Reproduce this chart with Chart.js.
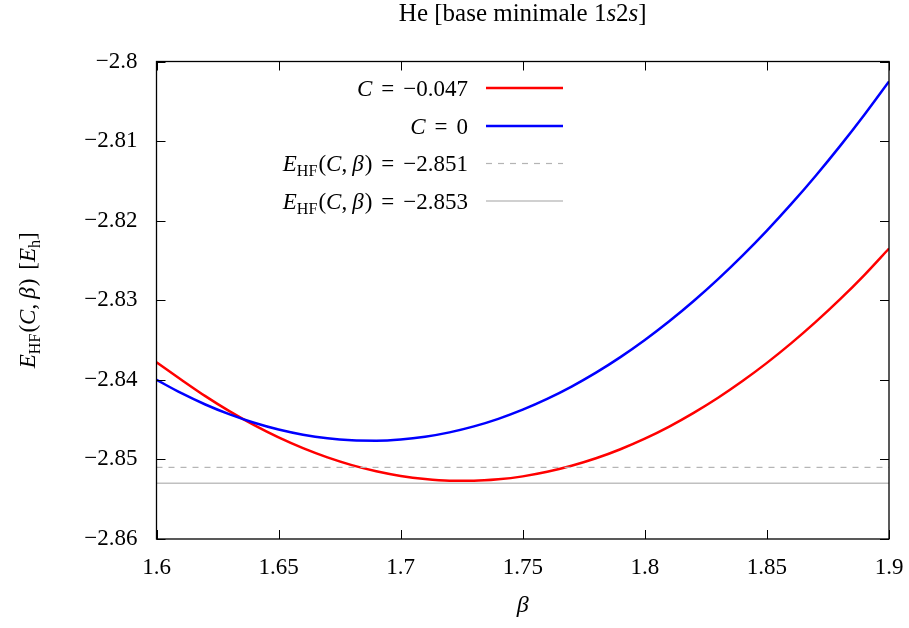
<!DOCTYPE html>
<html><head><meta charset="utf-8">
<script src="https://cdn.jsdelivr.net/npm/chart.js@4.4.1/dist/chart.umd.min.js"></script>
<style>html,body{margin:0;padding:0;background:#fff}#wrap{width:909px;height:628px;position:relative}</style>
</head><body><div id="wrap"><canvas id="c"></canvas></div>
<script>
const betaValues = [1.60,1.61,1.62,1.63,1.64,1.65,1.66,1.67,1.68,1.69,1.70,1.71,1.72,1.73,1.74,1.75,1.76,1.77,1.78,1.79,1.80,1.81,1.82,1.83,1.84,1.85,1.86,1.87,1.88,1.89,1.90];
const redValues = [-2.83780,-2.83995,-2.84205,-2.84397,-2.84570,-2.84724,-2.84859,-2.84975,-2.85072,-2.85149,-2.85208,-2.85247,-2.85267,-2.85268,-2.85250,-2.85213,-2.85156,-2.85080,-2.84986,-2.84872,-2.84739,-2.84587,-2.84415,-2.84225,-2.84015,-2.83787,-2.83539,-2.83272,-2.82986,-2.82680,-2.82350];
const blueValues = [-2.84000,-2.84165,-2.84310,-2.84435,-2.84540,-2.84625,-2.84690,-2.84735,-2.84760,-2.84765,-2.84750,-2.84715,-2.84660,-2.84585,-2.84490,-2.84375,-2.84240,-2.84085,-2.83910,-2.83715,-2.83500,-2.83265,-2.83010,-2.82735,-2.82440,-2.82125,-2.81790,-2.81435,-2.81060,-2.80665,-2.80250];
const levelValues = [-2.851, -2.853];
const levelRange = [1.6, 1.9];
const xTickValues = [1.6,1.65,1.7,1.75,1.8,1.85,1.9];
const yTickValues = [-2.86,-2.85,-2.84,-2.83,-2.82,-2.81,-2.8];

const FONT = "'Liberation Serif','DejaVu Serif',serif";
const fmt = v => { const s = String(parseFloat(Math.abs(v).toFixed(3))); return (v < 0 ? '\u2212' : '') + s; };

function segFont(seg, size) {
  const s = seg.sub ? size * 0.7 : size;
  return (seg.it ? 'italic ' : '') + s + 'px ' + FONT;
}
function richWidth(ctx, segs, size) {
  let w = 0;
  for (const g of segs) {
    if (g.gap) { w += g.gap; continue; }
    ctx.font = segFont(g, size); w += ctx.measureText(g.t).width;
  }
  return w;
}
function drawRich(ctx, segs, x, y, size, align) {
  const w = richWidth(ctx, segs, size);
  let cx = align === 'right' ? x - w : align === 'center' ? x - w / 2 : x;
  ctx.textBaseline = 'alphabetic'; ctx.textAlign = 'left'; ctx.fillStyle = '#000';
  for (const g of segs) {
    if (g.gap) { cx += g.gap; continue; }
    ctx.font = segFont(g, size);
    ctx.fillText(g.t, cx, y + (g.sub ? size * 0.22 : 0));
    cx += ctx.measureText(g.t).width;
  }
}
const EHF = [{t:'E',it:true},{t:'HF',sub:true},{gap:1},{t:'('},{t:'C',it:true},{t:','},{gap:5},{t:'\u03B2',it:true},{gap:1},{t:')'}];
const legendItems = [
  {segs:[{t:'C',it:true},{gap:9},{t:'='},{gap:9},{t:'\u22120.047'}], color:'#ff0000', width:2.5, dash:[]},
  {segs:[{t:'C',it:true},{gap:9},{t:'='},{gap:9},{t:'0'}], color:'#0000ff', width:2.5, dash:[]},
  {segs:[...EHF,{gap:9},{t:'='},{gap:9},{t:'\u22122.851'}], color:'#b4b4b4', width:1.2, dash:[6,6]},
  {segs:[...EHF,{gap:9},{t:'='},{gap:9},{t:'\u22122.853'}], color:'#c0c0c0', width:1.5, dash:[]}
];

const decor = {
  id: 'decor',
  afterDraw(chart) {
    const ctx = chart.ctx, a = chart.chartArea;
    const xs = chart.scales.x, ys = chart.scales.y;
    ctx.save();
    ctx.strokeStyle = '#000'; ctx.lineWidth = 1.3; ctx.setLineDash([]);
    ctx.strokeRect(a.left, a.top, a.right - a.left, a.bottom - a.top);
    ctx.lineWidth = 1; const tl = 9;
    ctx.beginPath();
    for (const v of xTickValues) {
      const px = Math.round(xs.getPixelForValue(v)) + 0.5;
      ctx.moveTo(px, a.bottom); ctx.lineTo(px, a.bottom - tl);
      ctx.moveTo(px, a.top); ctx.lineTo(px, a.top + tl);
    }
    for (const v of yTickValues) {
      const py = Math.round(ys.getPixelForValue(v)) + 0.5;
      ctx.moveTo(a.left, py); ctx.lineTo(a.left + tl, py);
      ctx.moveTo(a.right, py); ctx.lineTo(a.right - tl, py);
    }
    ctx.stroke();
    drawRich(ctx, [{t:'He [base minimale 1'},{t:'s',it:true},{t:'2'},{t:'s',it:true},{t:']'}], (a.left + a.right) / 2, 21, 25, 'center');
    drawRich(ctx, [{t:'\u03B2',it:true}], (a.left + a.right) / 2, 612, 24, 'center');
    ctx.save();
    ctx.translate(35, (a.top + a.bottom) / 2);
    ctx.rotate(-Math.PI / 2);
    drawRich(ctx, [...EHF,{gap:9},{t:'['},{t:'E',it:true},{t:'h',sub:true},{t:']'}], 0, 0, 23, 'center');
    ctx.restore();
    const rowY = [88, 126, 163.5, 201];
    legendItems.forEach((it, i) => {
      drawRich(ctx, it.segs, 468, rowY[i] + 7.5, 23, 'right');
      ctx.beginPath(); ctx.strokeStyle = it.color; ctx.lineWidth = it.width; ctx.setLineDash(it.dash);
      ctx.moveTo(486, rowY[i]); ctx.lineTo(563, rowY[i]); ctx.stroke();
    });
    ctx.restore();
  }
};

const pts = vals => betaValues.map((b, i) => ({x: b, y: vals[i]}));
const levelPts = v => levelRange.map(b => ({x: b, y: v}));

new Chart(document.getElementById('c'), {
  type: 'line',
  data: {
    datasets: [
      {label:'E=-2.851', data: levelPts(levelValues[0]), borderColor:'#b4b4b4', borderWidth:1.2, borderDash:[6,6], pointRadius:0},
      {label:'E=-2.853', data: levelPts(levelValues[1]), borderColor:'#c0c0c0', borderWidth:1.5, pointRadius:0},
      {label:'C=0', data: pts(blueValues), borderColor:'#0000ff', borderWidth:2.5, pointRadius:0, cubicInterpolationMode:'monotone'},
      {label:'C=-0.047', data: pts(redValues), borderColor:'#ff0000', borderWidth:2.5, pointRadius:0, cubicInterpolationMode:'monotone'}
    ]
  },
  options: {
    responsive: true, maintainAspectRatio: false, animation: false,
    layout: {padding: {left: 0, right: 20, top: 61.5, bottom: 0}},
    plugins: {legend: {display: false}, title: {display: false}, tooltip: {enabled: false}},
    scales: {
      x: {
        type: 'linear', min: 1.6, max: 1.9,
        grid: {display: false, drawTicks: false}, border: {display: false},
        afterBuildTicks: s => { s.ticks = xTickValues.map(v => ({value: v})); },
        afterFit: s => { s.height = 89; s.paddingLeft = 0; s.paddingRight = 0; },
        ticks: {color: '#000', font: {family: FONT, size: 23}, padding: 15, maxRotation: 0, autoSkip: false, callback: v => fmt(v)}
      },
      y: {
        type: 'linear', min: -2.86, max: -2.8,
        grid: {display: false, drawTicks: false}, border: {display: false},
        afterBuildTicks: s => { s.ticks = yTickValues.map(v => ({value: v})); },
        afterFit: s => { s.width = 156.5; s.paddingTop = 0; s.paddingBottom = 0; },
        ticks: {color: '#000', font: {family: FONT, size: 23}, padding: 19, autoSkip: false, callback: v => fmt(v)}
      }
    }
  },
  plugins: [decor]
});
</script></body></html>
